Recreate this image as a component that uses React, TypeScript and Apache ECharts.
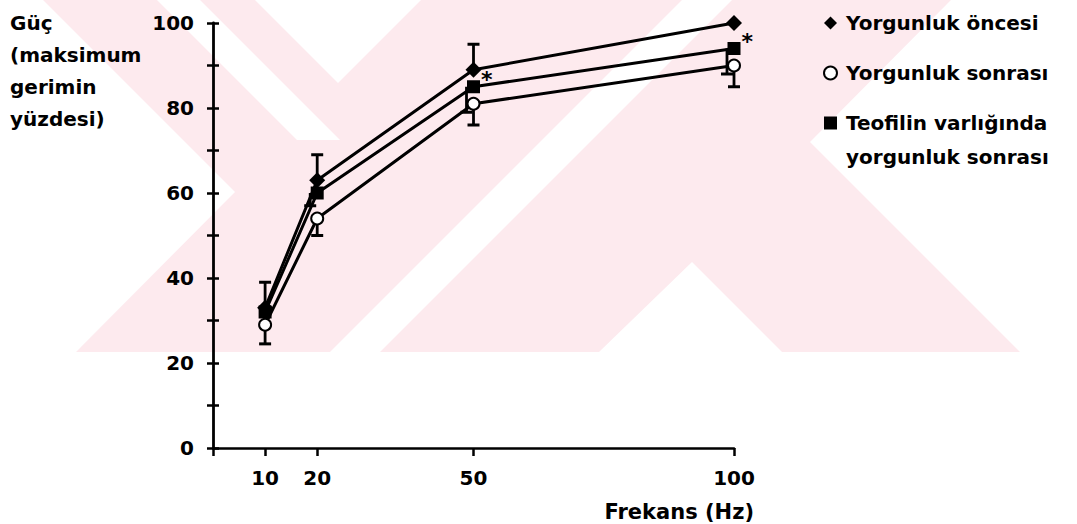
import React, { useEffect, useRef } from "react";
import * as echarts from "echarts";

// ---- data ----
const frequencies = [10, 20, 50, 100];
const xTickValues = [0, 10, 20, 50, 100];
const xLabelValues = [10, 20, 50, 100];

const nameOncesi = "Yorgunluk öncesi";
const nameSonrasi = "Yorgunluk sonrası";
const nameTeofilin = "Teofilin varlığında yorgunluk sonrası";
const legendLines: Record<string, string> = {
  [nameTeofilin]: "Teofilin varlığında",
};
const legendSecondLine = "yorgunluk sonrası";

const oncesi = [33, 63, 89, 100];
const sonrasi = [29, 54, 81, 90];
const teofilin = [32, 60, 85, 94];

// error bar ends (one-sided, as drawn)
const oncesiUpper = [39, 69, 95, null];
const sonrasiLower = [24.5, 50, 76, 85];
const teofilinLower = [null, 57, 79, 88];
const teofilinMarks = ["", "", "*", "*"];

const yAxisTitle = "Güç\n(maksimum\ngerimin\nyüzdesi)";
const xAxisTitle = "Frekans (Hz)";

// ---- decorative watermark (background) ----
const WM = "#fdeaee";
const wmBase: number[][] = [[0, 0], [1077, 0], [1077, 352], [0, 352]];
const wmWhite: number[][][] = [
  [[0, 0], [43, 0], [235, 192], [76, 352], [0, 352]],
  [[157, 0], [200, 0], [340, 140], [297, 140]],
  [[255, 0], [421, 0], [338, 83]],
  [[330, 352], [380, 352], [732, 0], [682, 0]],
  [[599, 352], [692, 262], [782, 352]],
  [[951, 0], [1077, 0], [1077, 352], [1020, 352], [810, 142]],
];

const FONT = "DejaVu Sans";

function pairs(xs: number[], ys: (number | null)[]) {
  return xs.map((x, i) => [x, ys[i]]);
}

function errData(xs: number[], mean: number[], ends: (number | null)[]) {
  const out: number[][] = [];
  xs.forEach((x, i) => {
    const e = ends[i];
    if (e !== null && e !== undefined) out.push([x, mean[i], e]);
  });
  return out;
}

function errSeries(data: number[][], dx: number) {
  return {
    type: "custom",
    silent: true,
    z: 3,
    data,
    renderItem: (params: any, api: any) => {
      const x = api.value(0);
      const p0 = api.coord([x, api.value(1)]);
      const p1 = api.coord([x, api.value(2)]);
      return {
        type: "group",
        children: [
          {
            type: "line",
            shape: { x1: p0[0] + dx, y1: p0[1], x2: p1[0] + dx, y2: p1[1] },
            style: { stroke: "#000", lineWidth: 2.8 },
          },
          {
            type: "line",
            shape: { x1: p1[0] + dx - 6, y1: p1[1], x2: p1[0] + dx + 6, y2: p1[1] },
            style: { stroke: "#000", lineWidth: 3 },
          },
        ],
      };
    },
  };
}

export default function App() {
  const ref = useRef<HTMLDivElement>(null);
  useEffect(() => {
    document.body.style.margin = "0";
    const chart = echarts.init(ref.current!, undefined, { renderer: "svg" });
    const textBase = { fontFamily: FONT, fontWeight: "bold", fontSize: 20, color: "#000" };
    const option: any = {
      animation: false,
      backgroundColor: "#fff",
      textStyle: { fontFamily: FONT },
      grid: { left: 213, right: 343, top: 23, bottom: 76, containLabel: false },
      graphic: [
        {
          type: "group",
          z: -10,
          silent: true,
          children: [
            { type: "polygon", shape: { points: wmBase }, style: { fill: WM } },
            ...wmWhite.map((pts) => ({
              type: "polygon",
              shape: { points: pts },
              style: { fill: "#fff" },
            })),
          ],
        },
        {
          type: "text",
          left: 10,
          top: 7,
          style: { text: yAxisTitle, ...textBase, fill: "#000", lineHeight: 32 },
        },
        {
          type: "text",
          right: 1077 - 754,
          top: 501,
          style: { text: xAxisTitle, ...textBase, fontSize: 21, fill: "#000" },
        },
        {
          type: "text",
          left: 846,
          top: 147,
          style: { text: legendSecondLine, ...textBase, fill: "#000" },
        },
      ],
      legend: {
        orient: "vertical",
        left: 818,
        top: 8,
        itemGap: 30,
        itemWidth: 13,
        itemHeight: 13,
        formatter: (name: string) => legendLines[name] ?? name,
        textStyle: { ...textBase, padding: [0, 0, 0, 4] },
        data: [
          { name: nameOncesi, icon: "diamond" },
          { name: nameSonrasi, icon: "emptyCircle" },
          { name: nameTeofilin, icon: "rect" },
        ],
      },
      xAxis: {
        type: "value",
        min: 0,
        max: 100,
        splitLine: { show: false },
        axisLine: { show: true, lineStyle: { color: "#000", width: 2.5 } },
        axisTick: { show: true, customValues: xTickValues, length: 8, lineStyle: { color: "#000", width: 2.5 } },
        axisLabel: { customValues: xLabelValues, margin: 20, ...textBase },
      },
      yAxis: [
        {
          type: "value",
          min: 0,
          max: 100,
          interval: 10,
          splitLine: { show: false },
          axisLine: { show: true, lineStyle: { color: "#000", width: 2.8 } },
          axisTick: { show: true, length: 6, lineStyle: { color: "#000", width: 2.5 } },
          axisLabel: {
            margin: 19,
            ...textBase,
            formatter: (v: number) => (v % 20 === 0 ? String(v) : ""),
          },
        },
        {
          type: "value",
          min: 0,
          max: 100,
          interval: 10,
          position: "left",
          splitLine: { show: false },
          axisLine: { show: false },
          axisTick: { show: true, inside: true, length: 6, lineStyle: { color: "#000", width: 2.5 } },
          axisLabel: { show: false },
        },
      ],
      series: [
        errSeries(errData(frequencies, oncesi, oncesiUpper), 0),
        errSeries(errData(frequencies, sonrasi, sonrasiLower), 0),
        errSeries(errData(frequencies, teofilin, teofilinLower), -7),
        {
          name: nameOncesi,
          type: "line",
          z: 4,
          data: pairs(frequencies, oncesi),
          symbol: "diamond",
          symbolSize: 16,
          itemStyle: { color: "#000" },
          lineStyle: { color: "#000", width: 3 },
        },
        {
          name: nameTeofilin,
          type: "line",
          z: 4,
          data: frequencies.map((x, i) => ({
            value: [x, teofilin[i]],
            label: {
              show: teofilinMarks[i] !== "",
              formatter: teofilinMarks[i],
              position: [14, -12],
              ...textBase,
              fontSize: 22,
            },
          })),
          symbol: "rect",
          symbolSize: 13,
          itemStyle: { color: "#000" },
          lineStyle: { color: "#000", width: 3 },
        },
        {
          name: nameSonrasi,
          type: "line",
          z: 5,
          data: pairs(frequencies, sonrasi),
          symbol: "emptyCircle",
          symbolSize: 12,
          itemStyle: { color: "#000", borderColor: "#000", borderWidth: 2.5 },
          lineStyle: { color: "#000", width: 3 },
        },
      ],
    };
    chart.setOption(option);
    return () => chart.dispose();
  }, []);
  return (
    <div
      ref={ref}
      style={{ position: "absolute", left: 0, top: 0, width: 1077, height: 524 }}
    />
  );
}
